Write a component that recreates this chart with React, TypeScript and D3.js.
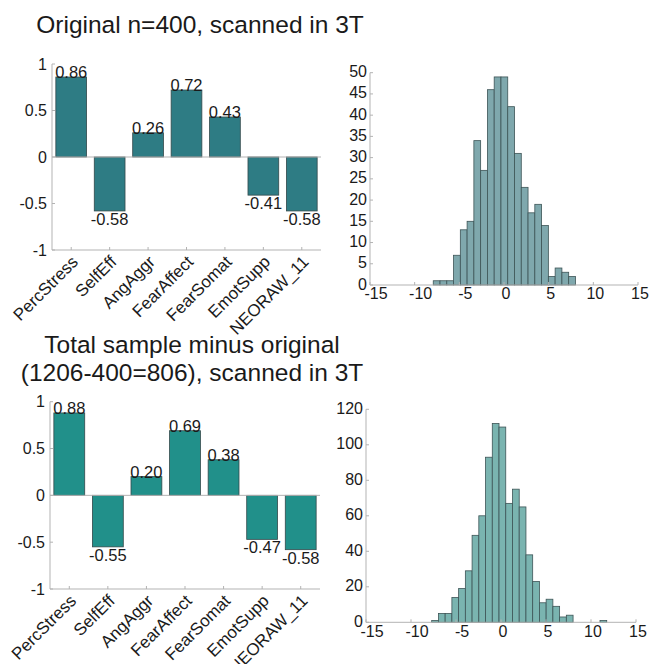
import React from "react";
import * as d3 from "d3";

const categories = ["PercStress", "SelfEff", "AngAggr", "FearAffect", "FearSomat", "EmotSupp", "NEORAW_11"];
const valuesTop = [0.86, -0.58, 0.26, 0.72, 0.43, -0.41, -0.58];
const valuesBottom = [0.88, -0.55, 0.2, 0.69, 0.38, -0.47, -0.58];
const barTicks = [-1, -0.5, 0, 0.5, 1];

const histTopCounts = [1, 1, 1, 7, 13, 15, 34, 27, 46, 49, 49, 42, 31, 23, 17, 19, 14, 2, 4, 3, 2];
const histTopStart = -7.92;
const histTopWidth = 0.758;
const histTopYTicks = [0, 5, 10, 15, 20, 25, 30, 35, 40, 45, 50];

const histBottomCounts = [1, 5, 5, 14, 19, 29, 49, 60, 93, 112, 110, 67, 75, 65, 38, 23, 11, 13, 9, 3, 4, 0, 0, 0, 0, 1];
const histBottomStart = -7.7;
const histBottomWidth = 0.748;
const histBottomYTicks = [0, 20, 40, 60, 80, 100, 120];

const histXTicks = [-15, -10, -5, 0, 5, 10, 15];

const FONT = "'Liberation Sans', Arial, sans-serif";
const AXIS = "#b3b3b3";
const TEXT = "#1a1a1a";

function BarPanel({ values, x0, x1, yTop, yBot, color }: any) {
  const y = d3.scaleLinear().domain([-1, 1]).range([yBot, yTop]);
  const x = d3.scaleBand<string>().domain(categories).range([x0, x1]).paddingInner(0.2).paddingOuter(0.1);
  const bw = x.bandwidth();
  const center = (c: string) => (x(c) as number) + bw / 2;
  return (
    <g>
      {values.map((v: number, i: number) => {
        const cx = center(categories[i]);
        const top = y(Math.max(0, v));
        const bot = y(Math.min(0, v));
        return (
          <g key={i}>
            <rect x={cx - bw / 2} y={top} width={bw} height={bot - top} fill={color} stroke="#34494b" strokeWidth={0.8} />
            <text
              x={cx}
              y={v >= 0 ? y(v) + 1 : y(v) + 2}
              textAnchor="middle"
              dominantBaseline={v >= 0 ? "auto" : "hanging"}
              fontSize={16.5}
              fontFamily={FONT}
              fill={TEXT}
            >
              {v.toFixed(2)}
            </text>
          </g>
        );
      })}
      <line x1={x0} x2={x1} y1={y(0)} y2={y(0)} stroke={AXIS} strokeWidth={1} />
      <line x1={x0} x2={x0} y1={yTop} y2={yBot} stroke={AXIS} strokeWidth={1} />
      <line x1={x0} x2={x1} y1={yBot} y2={yBot} stroke={AXIS} strokeWidth={1} />
      {barTicks.map((t) => (
        <g key={t}>
          <line x1={x0} x2={x0 + 3} y1={y(t)} y2={y(t)} stroke={AXIS} />
          <text x={x0 - 5} y={y(t)} textAnchor="end" dominantBaseline="central" fontSize={16} fontFamily={FONT} fill={TEXT}>
            {t}
          </text>
        </g>
      ))}
      {categories.map((c) => {
        const cx = center(c);
        return (
          <g key={c}>
            <line x1={cx} x2={cx} y1={yBot} y2={yBot - 3} stroke={AXIS} />
            <text
              transform={`translate(${cx + 4},${yBot + 9}) rotate(-45)`}
              textAnchor="end"
              dominantBaseline="central"
              fontSize={17}
              fontFamily={FONT}
              fill={TEXT}
            >
              {c}
            </text>
          </g>
        );
      })}
    </g>
  );
}

function HistPanel({ counts, start, width, x0, x1, y0, yTopPx, yMax, yTicks, color }: any) {
  const x = d3.scaleLinear().domain([-15, 15]).range([x0, x1]);
  const y = d3.scaleLinear().domain([0, yMax]).range([y0, yTopPx]);
  return (
    <g>
      {counts.map((c: number, i: number) =>
        c > 0 ? (
          <rect
            key={i}
            x={x(start + i * width)}
            y={y(c)}
            width={x(start + (i + 1) * width) - x(start + i * width)}
            height={y(0) - y(c)}
            fill={color}
            stroke="#3d5456"
            strokeWidth={0.8}
          />
        ) : null
      )}
      <line x1={x0} x2={x0} y1={y0} y2={yTopPx} stroke={AXIS} />
      <line x1={x0} x2={x1} y1={y0} y2={y0} stroke={AXIS} />
      {yTicks.map((t: number) => (
        <g key={t}>
          <line x1={x0} x2={x0 + 3} y1={y(t)} y2={y(t)} stroke={AXIS} />
          <text x={x0 - 3} y={y(t) - 1} textAnchor="end" dominantBaseline="central" fontSize={16} fontFamily={FONT} fill={TEXT}>
            {t}
          </text>
        </g>
      ))}
      {histXTicks.map((t) => (
        <g key={t}>
          <line x1={x(t)} x2={x(t)} y1={y0} y2={y0 - 3} stroke={AXIS} />
          <text
            x={x(t) + (t < 0 ? 6 : 2)}
            y={y0 + 3}
            textAnchor="middle"
            dominantBaseline="hanging"
            fontSize={16}
            fontFamily={FONT}
            fill={TEXT}
          >
            {t}
          </text>
        </g>
      ))}
    </g>
  );
}

export default function App() {
  return (
    <svg width={650} height={664} style={{ position: "absolute", left: 0, top: 0, background: "#fff" }}>
      <text x={200} y={33} textAnchor="middle" fontSize={24.5} fontFamily={FONT} fill={TEXT}>
        Original n=400, scanned in 3T
      </text>
      <text x={192} y={353} textAnchor="middle" fontSize={24.5} fontFamily={FONT} fill={TEXT}>
        Total sample minus original
      </text>
      <text x={192} y={381} textAnchor="middle" fontSize={24.5} fontFamily={FONT} fill={TEXT}>
        (1206-400=806), scanned in 3T
      </text>
      <BarPanel values={valuesTop} x0={52} x1={321} yTop={64} yBot={250} color="#2e7c84" />
      <BarPanel values={valuesBottom} x0={50} x1={320} yTop={401.7} yBot={589} color="#21908a" />
      <HistPanel
        counts={histTopCounts}
        start={histTopStart}
        width={histTopWidth}
        x0={370}
        x1={638}
        y0={285}
        yTopPx={72.7}
        yMax={50}
        yTicks={histTopYTicks}
        color="#7fa8ad"
      />
      <HistPanel
        counts={histBottomCounts}
        start={histBottomStart}
        width={histBottomWidth}
        x0={366}
        x1={636}
        y0={622.3}
        yTopPx={409.3}
        yMax={120}
        yTicks={histBottomYTicks}
        color="#7ab4b0"
      />
    </svg>
  );
}
